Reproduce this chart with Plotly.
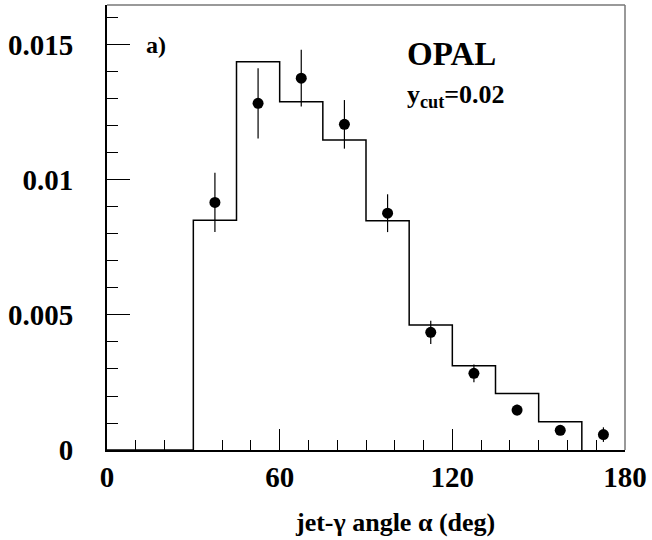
import plotly.graph_objects as go

# Histogram (MC) bin edges and contents
bin_edges = [0, 30, 45, 60, 75, 90, 105, 120, 135, 150, 165, 180]
hist_values = [0.0, 0.00851, 0.01438, 0.0129, 0.01148, 0.00849, 0.00463, 0.00312, 0.00209, 0.00105, -0.00006]

# Data points
data_x = [37.5, 52.5, 67.5, 82.5, 97.5, 112.5, 127.5, 142.5, 157.5, 172.5]
data_y = [0.00917, 0.01284, 0.01377, 0.01206, 0.00877, 0.00436, 0.00284, 0.00148, 0.00073, 0.00057]
data_err = [0.0011, 0.0013, 0.00105, 0.0009, 0.0007, 0.00043, 0.00033, 0.0002, 0.00012, 0.00027]

x_tickvals = [0, 60, 120, 180]
x_ticktext = ["0", "60", "120", "180"]
y_tickvals = [0, 0.005, 0.01, 0.015]
y_ticktext = ["0", "0.005", "0.01", "0.015"]

FONT = "Liberation Serif"

fig = go.Figure()
fig.add_trace(go.Scatter(
    x=bin_edges, y=hist_values + [hist_values[-1]],
    mode="lines", line=dict(shape="hv", color="black", width=1.5),
    showlegend=False, hoverinfo="skip"))
fig.add_trace(go.Scatter(
    x=data_x, y=data_y, mode="markers",
    marker=dict(size=11, color="black"),
    error_y=dict(type="data", array=data_err, visible=True, thickness=1.2, width=0, color="black"),
    showlegend=False))

fig.update_layout(
    width=652, height=540,
    margin=dict(l=107, r=27, t=5, b=90),
    paper_bgcolor="white", plot_bgcolor="white",
    font=dict(family=FONT, color="black"),
    xaxis=dict(range=[0, 180], showgrid=False, zeroline=False, automargin=False,
               showline=True, linecolor="black", linewidth=2,
               ticks="inside", ticklen=21, tickwidth=1.2, tickcolor="black",
               tickvals=x_tickvals, ticktext=x_ticktext,
               minor=dict(dtick=10, ticklen=10, tickwidth=1.2, tickcolor="black", ticks="inside"),
               tickfont=dict(family=FONT, size=29, weight="bold"),
               ticklabelstandoff=0),
    yaxis=dict(range=[0, 0.01648], showgrid=False, zeroline=False, automargin=False,
               showline=True, linecolor="black", linewidth=2,
               ticks="inside", ticklen=23, tickwidth=1.2, tickcolor="black",
               tickvals=y_tickvals, ticktext=y_ticktext,
               minor=dict(dtick=0.001, ticklen=11, tickwidth=1.2, tickcolor="black", ticks="inside"),
               tickfont=dict(family=FONT, size=29, weight="bold"),
               ticklabelstandoff=26),
)

# top and right frame
fig.add_shape(type="line", xref="paper", yref="paper", x0=0, x1=1, y0=1, y1=1,
              line=dict(color="#777777", width=1.5))
fig.add_shape(type="line", xref="paper", yref="paper", x0=1, x1=1, y0=0, y1=1,
              line=dict(color="#777777", width=1.5))

fig.add_annotation(x=12.75, y=0.0150, xref="x", yref="y", text="<b>a)</b>", showarrow=False,
                   xanchor="left", yanchor="middle", font=dict(family=FONT, size=24))
fig.add_annotation(x=103.4, y=0.01467, xref="x", yref="y", text="<b>OPAL</b>", showarrow=False,
                   xanchor="left", yanchor="middle", font=dict(family=FONT, size=33))
fig.add_annotation(x=103.4, y=0.0131, xref="x", yref="y", text="<b>y<sub>cut</sub>=0.02</b>", showarrow=False,
                   xanchor="left", yanchor="middle", font=dict(family=FONT, size=26))
fig.add_annotation(x=100, y=-0.162, xref="x", yref="paper", text="<b>jet-γ angle α (deg)</b>", showarrow=False,
                   xanchor="center", yanchor="middle", font=dict(family=FONT, size=26))

fig.write_html("out.html", config={"displayModeBar": False},
               post_script="document.body.style.margin='0';")
